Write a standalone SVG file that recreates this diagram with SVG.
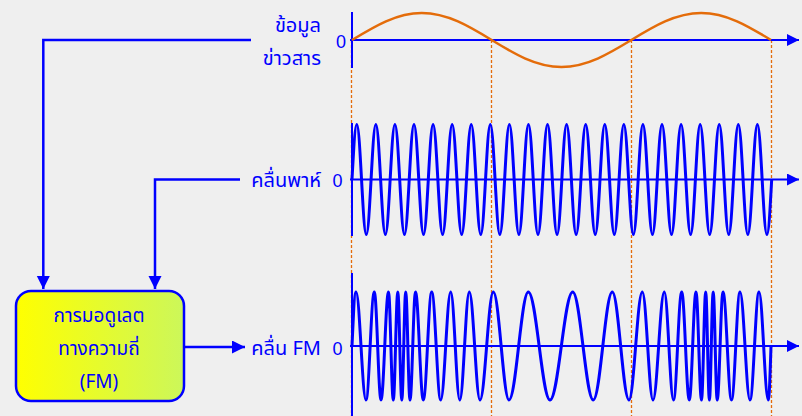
<svg xmlns="http://www.w3.org/2000/svg" width="802" height="416" viewBox="0 0 802 416">
<defs>
<linearGradient id="boxfill" x1="0" y1="0" x2="1" y2="0">
<stop offset="0" stop-color="#ffff00"/>
<stop offset="1" stop-color="#ccf75a"/>
</linearGradient>
<marker id="ah" markerWidth="14" markerHeight="14" refX="13" refY="6.5" orient="auto" markerUnits="userSpaceOnUse">
<path d="M0,0 L13,6.5 L0,13 Z" fill="#0000ff"/>
</marker>
<marker id="axh" markerWidth="14" markerHeight="14" refX="12" refY="6" orient="auto" markerUnits="userSpaceOnUse">
<path d="M0,0 L12,6 L0,12 Z" fill="#0000ff"/>
</marker>
</defs>
<style>
.lbl{font-family:"Noto Sans Thai","Tahoma","Loma","Garuda","Liberation Sans",sans-serif;font-size:20px;fill:#0000ff}
.box{font-size:19px}
.num{font-family:"Liberation Sans",Arial,sans-serif;font-size:18px;fill:#0000ff}
.axis{stroke:#0000ff;stroke-width:2;fill:none}
.wave{stroke:#0000ff;stroke-width:3;fill:none;stroke-linejoin:round}
.msg{stroke:#e46c0a;stroke-width:2.5;fill:none}
.guide{stroke:#e46c0a;stroke-width:1.3;stroke-dasharray:3 2;fill:none}
.conn{stroke:#0000ff;stroke-width:2.5;fill:none}
</style>
<rect width="802" height="416" fill="#efefef"/>

<g id="guides">
<line class="guide" x1="351.5" y1="40" x2="351.5" y2="416"/>
<line class="guide" x1="491.5" y1="40" x2="491.5" y2="416"/>
<line class="guide" x1="631.5" y1="40" x2="631.5" y2="416"/>
<line class="guide" x1="771.5" y1="40" x2="771.5" y2="416"/>
</g>

<g id="message-plot">
<line class="axis" x1="352" y1="12" x2="352" y2="68"/>
<line class="axis" x1="350" y1="40" x2="799" y2="40" marker-end="url(#axh)"/>
<path class="msg" d="M352,40 C374.8,26.170 396.5,13 421.8,13 C472.7,13 510.6,67 561.5,67 C612.4,67 650.3,13 701.2,13 C726.5,13 748.2,26.17 771,40"/>
<text class="num" x="341" y="48" text-anchor="middle">0</text>
</g>

<g id="carrier-plot">
<line class="axis" x1="352" y1="123" x2="352" y2="236"/>
<line class="axis" x1="350" y1="179.5" x2="799" y2="179.5" marker-end="url(#axh)"/>
<path class="wave" d="M352,179.5 C353.56,151.32 355.04,124.5 356.77,124.5 c3.475,0 6.064,110 9.5385,110 s6.064,-110 9.5385,-110 s6.064,110 9.5385,110 s6.064,-110 9.5385,-110 s6.064,110 9.5385,110 s6.064,-110 9.5385,-110 s6.064,110 9.5385,110 s6.064,-110 9.5385,-110 s6.064,110 9.5385,110 s6.064,-110 9.5385,-110 s6.064,110 9.5385,110 s6.064,-110 9.5385,-110 s6.064,110 9.5385,110 s6.064,-110 9.5385,-110 s6.064,110 9.5385,110 s6.064,-110 9.5385,-110 s6.064,110 9.5385,110 s6.064,-110 9.5385,-110 s6.064,110 9.5385,110 s6.064,-110 9.5385,-110 s6.064,110 9.5385,110 s6.064,-110 9.5385,-110 s6.064,110 9.5385,110 s6.064,-110 9.5385,-110 s6.064,110 9.5385,110 s6.064,-110 9.5385,-110 s6.064,110 9.5385,110 s6.064,-110 9.5385,-110 s6.064,110 9.5385,110 s6.064,-110 9.5385,-110 s6.064,110 9.5385,110 s6.064,-110 9.5385,-110 s6.064,110 9.5385,110 s6.064,-110 9.5385,-110 s6.064,110 9.5385,110 s6.064,-110 9.5385,-110 s6.064,110 9.5385,110 s6.064,-110 9.5385,-110 s6.064,110 9.5385,110 s6.064,-110 9.5385,-110 s6.064,110 9.5385,110 s6.064,-110 9.5385,-110 s6.064,110 9.5385,110 c1.726,0 3.214,-26.82 4.769,-55"/>
<text class="num" x="337.5" y="187" text-anchor="middle">0</text>
</g>

<g id="fm-plot">
<line class="axis" x1="352" y1="273" x2="352" y2="416"/>
<line class="axis" x1="350" y1="346" x2="799" y2="346" marker-end="url(#axh)"/>
<path class="wave" d="M352,346 C353.3,318.34 354.55,292 356,292 C359.64,292 362.36,400 366,400 C369.02,400 371.28,292 374.3,292 C376.74,292 378.56,400 381,400 C383.73,400 385.77,292 388.5,292 C390.25,292 391.55,400 393.3,400 C394.94,400 396.16,292 397.8,292 C399.26,292 400.34,400 401.8,400 C403.22,400 404.28,292 405.7,292 C407.27,292 408.43,400 410,400 C412,400 413.5,292 415.5,292 C418.34,292 420.46,400 423.3,400 C426.36,400 428.64,292 431.7,292 C434.98,292 437.42,400 440.7,400 C444.34,400 447.06,292 450.7,292 C454.02,292 456.49,400 459.8,400 C463.26,400 465.84,292 469.3,292 C473.2,292 476.1,400 480,400 C484.85,400 488.46,292 493.3,292 C499.02,292 503.28,400 509,400 C516.03,400 521.27,292 528.3,292 C536.21,292 542.1,400 550,400 C558.27,400 564.43,292 572.7,292 C580.21,292 585.8,400 593.3,400 C600.22,400 605.38,292 612.3,292 C618.38,292 622.92,400 629,400 C633.85,400 637.46,292 642.3,292 C646.2,292 649.1,400 653,400 C657.12,400 660.18,292 664.3,292 C667.65,292 670.15,400 673.5,400 C676.49,400 678.71,292 681.7,292 C684.47,292 686.53,400 689.3,400 C691.74,400 693.56,292 696,292 C698,292 699.5,400 701.5,400 C703.03,400 704.17,292 705.7,292 C707.05,292 708.05,400 709.4,400 C710.78,400 711.82,292 713.2,292 C714.66,292 715.74,400 717.2,400 C719.31,400 720.89,292 723,292 C726.1,292 728.4,400 731.5,400 C734.6,400 736.9,292 740,292 C743.64,292 746.36,400 750,400 C753.28,400 755.72,292 759,292 C762.39,292 764.91,400 768.3,400 C769.28,400 770.12,373.66 771,346"/>
<text class="num" x="337.5" y="355" text-anchor="middle">0</text>
</g>

<g id="label-message">
<text class="lbl" x="321" y="32" text-anchor="end">ข้อมูล</text>
<text class="lbl" x="321" y="65" text-anchor="end">ข่าวสาร</text>
</g>
<g id="label-carrier">
<text class="lbl" x="321" y="187" text-anchor="end">คลื่นพาห์</text>
</g>
<g id="label-fm">
<text class="lbl" x="321" y="355" text-anchor="end">คลื่น FM</text>
</g>

<g id="modulator">
<rect x="16" y="291" width="168" height="110" rx="15" ry="15" fill="url(#boxfill)" stroke="#0000ff" stroke-width="2.5"/>
<text class="lbl box" x="99" y="322" text-anchor="middle">การมอดูเลต</text>
<text class="lbl box" x="99" y="355" text-anchor="middle">ทางความถี่</text>
<text class="lbl box" x="99" y="388" text-anchor="middle">(FM)</text>
</g>

<g id="connectors">
<path class="conn" d="M251,40 H43.3 V289" marker-end="url(#ah)"/>
<path class="conn" d="M240,179.5 H155 V289" marker-end="url(#ah)"/>
<path class="conn" d="M184,347 H245" marker-end="url(#ah)"/>
</g>
</svg>
